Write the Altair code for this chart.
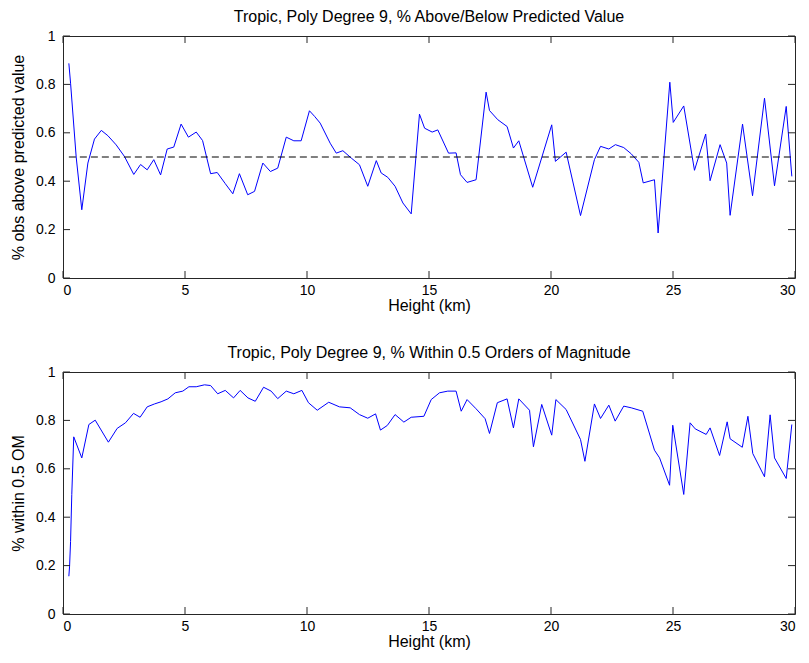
import altair as alt
import pandas as pd

# ---------------- data ----------------
heights_top = [0.24, 0.31, 0.54, 0.77, 1.02, 1.29, 1.57, 1.84, 2.18, 2.52, 2.90, 3.18, 3.45, 3.72,
               4.00, 4.27, 4.54, 4.84, 5.14, 5.46, 5.72, 6.05, 6.32, 6.65, 6.96, 7.23, 7.57, 7.85,
               8.19, 8.50, 8.80, 9.15, 9.46, 9.76, 10.10, 10.31, 10.54, 10.95, 11.20, 11.47, 11.81,
               12.15, 12.49, 12.84, 13.04, 13.31, 13.61, 13.93, 14.27, 14.61, 14.82, 15.13, 15.36,
               15.80, 16.11, 16.29, 16.56, 16.93, 17.34, 17.48, 17.82, 18.20, 18.46, 18.68, 19.25,
               20.03, 20.18, 20.62, 21.21, 21.78, 22.03, 22.37, 22.64, 22.98, 23.29, 23.60, 23.78,
               24.24, 24.39, 24.87, 25.01, 25.44, 25.88, 26.34, 26.52, 26.93, 27.20, 27.34, 27.85,
               28.26, 28.75, 29.16, 29.64, 29.87]
pct_above = [0.887, 0.805, 0.50, 0.282, 0.475, 0.574, 0.610, 0.588, 0.550, 0.502, 0.428, 0.469,
             0.447, 0.489, 0.426, 0.533, 0.541, 0.636, 0.582, 0.603, 0.568, 0.431, 0.436, 0.390,
             0.348, 0.431, 0.344, 0.358, 0.475, 0.440, 0.454, 0.582, 0.567, 0.567, 0.691, 0.668,
             0.640, 0.557, 0.516, 0.526, 0.496, 0.468, 0.379, 0.485, 0.434, 0.416, 0.379, 0.310,
             0.265, 0.677, 0.619, 0.603, 0.612, 0.516, 0.517, 0.427, 0.395, 0.406, 0.768, 0.692,
             0.654, 0.626, 0.537, 0.567, 0.375, 0.633, 0.482, 0.520, 0.258, 0.489, 0.544, 0.533,
             0.551, 0.539, 0.513, 0.478, 0.393, 0.406, 0.186, 0.809, 0.643, 0.711, 0.445, 0.595,
             0.402, 0.551, 0.475, 0.259, 0.636, 0.340, 0.743, 0.381, 0.709, 0.420]

heights_bot = [0.24, 0.27, 0.31, 0.36, 0.44, 0.77, 1.06, 1.32, 1.86, 2.22, 2.56, 2.89, 3.16, 3.45,
               3.75, 4.02, 4.30, 4.60, 4.91, 5.16, 5.46, 5.80, 6.05, 6.34, 6.65, 6.99, 7.26, 7.58,
               7.88, 8.22, 8.53, 8.80, 9.15, 9.46, 9.79, 10.06, 10.42, 10.89, 11.33, 11.77, 12.15,
               12.49, 12.81, 13.01, 13.29, 13.61, 13.97, 14.27, 14.79, 15.09, 15.43, 15.77, 16.11,
               16.32, 16.56, 16.93, 17.30, 17.48, 17.80, 18.20, 18.46, 18.68, 19.12, 19.28, 19.62,
               20.03, 20.20, 20.62, 21.21, 21.39, 21.78, 22.03, 22.37, 22.63, 22.98, 23.29, 23.76,
               24.24, 24.45, 24.86, 24.99, 25.44, 25.70, 25.91, 26.36, 26.52, 26.91, 27.22, 27.34,
               27.84, 28.07, 28.27, 28.75, 28.98, 29.16, 29.64, 29.87]
pct_within = [0.156, 0.198, 0.300, 0.494, 0.732, 0.645, 0.783, 0.801, 0.710, 0.767, 0.790, 0.829,
              0.813, 0.856, 0.868, 0.877, 0.889, 0.914, 0.921, 0.939, 0.939, 0.947, 0.944, 0.910,
              0.924, 0.893, 0.924, 0.893, 0.879, 0.937, 0.921, 0.890, 0.921, 0.910, 0.924, 0.873,
              0.842, 0.875, 0.856, 0.852, 0.824, 0.809, 0.827, 0.760, 0.779, 0.824, 0.793, 0.813,
              0.817, 0.886, 0.914, 0.921, 0.921, 0.838, 0.886, 0.848, 0.807, 0.746, 0.873, 0.889,
              0.769, 0.889, 0.842, 0.691, 0.866, 0.739, 0.886, 0.845, 0.721, 0.631, 0.868, 0.808,
              0.863, 0.797, 0.859, 0.852, 0.838, 0.677, 0.645, 0.532, 0.780, 0.494, 0.790, 0.765,
              0.742, 0.769, 0.655, 0.794, 0.724, 0.689, 0.817, 0.663, 0.567, 0.823, 0.645, 0.560,
              0.783]

x_ticks = [0, 5, 10, 15, 20, 25, 30]
y_ticks = [0, 0.2, 0.4, 0.6, 0.8, 1]
ref_level = 0.5

W, H = 732, 242
TICK = 7
FONT = "Liberation Sans"
FS_LABEL = 14
FS_TITLE = 16
FRAME = "#262626"


def panel(xs, ys, title, ytitle, ref=None):
    df = pd.DataFrame({"h": xs, "v": ys})
    xsc = alt.Scale(domain=[0, 30], nice=False, zero=False)
    ysc = alt.Scale(domain=[0, 1], nice=False, zero=False)
    xax = alt.Axis(values=x_ticks, format="~g", title="Height (km)", ticks=False,
                   domain=False, grid=False, labelPadding=5, titlePadding=0)
    yax = alt.Axis(values=y_ticks, format="~g", title=ytitle, ticks=False,
                   domain=False, grid=False, labelPadding=8, titlePadding=9)
    line = alt.Chart(df).mark_line(color="#0000ff", strokeWidth=1, clip=True).encode(
        x=alt.X("h:Q", scale=xsc, axis=xax),
        y=alt.Y("v:Q", scale=ysc, axis=yax),
    )
    layers = [line]
    if ref is not None:
        rdf = pd.DataFrame({"a": [xs[0]], "b": [xs[-1]], "r": [ref]})
        layers.append(alt.Chart(rdf).mark_rule(color="#000000", strokeWidth=1, strokeDash=[7, 4]).encode(
            x=alt.X("a:Q", scale=xsc, axis=xax), x2="b:Q", y=alt.Y("r:Q", scale=ysc, axis=yax)))
    tx = pd.DataFrame({"t": x_ticks})
    ty = pd.DataFrame({"t": y_ticks})
    layers.append(alt.Chart(tx).mark_rule(color=FRAME, strokeWidth=1).encode(
        x=alt.X("t:Q", scale=xsc, axis=xax), y=alt.value(H), y2=alt.value(H - TICK)))
    layers.append(alt.Chart(tx).mark_rule(color=FRAME, strokeWidth=1).encode(
        x=alt.X("t:Q", scale=xsc, axis=xax), y=alt.value(0), y2=alt.value(TICK)))
    layers.append(alt.Chart(ty).mark_rule(color=FRAME, strokeWidth=1).encode(
        y=alt.Y("t:Q", scale=ysc, axis=yax), x=alt.value(0), x2=alt.value(TICK)))
    layers.append(alt.Chart(ty).mark_rule(color=FRAME, strokeWidth=1).encode(
        y=alt.Y("t:Q", scale=ysc, axis=yax), x=alt.value(W), x2=alt.value(W - TICK)))
    return alt.layer(*layers).properties(
        width=W, height=H,
        title=alt.TitleParams(title, fontSize=FS_TITLE, font=FONT, fontWeight="normal",
                              anchor="middle", offset=4, color="#000000"))


top = panel(heights_top, pct_above, "Tropic, Poly Degree 9, % Above/Below Predicted Value",
            "% obs above predicted value", ref=ref_level)
bottom = panel(heights_bot, pct_within, "Tropic, Poly Degree 9, % Within 0.5 Orders of Magnitude",
               "% within 0.5 OM")

chart = alt.vconcat(top, bottom, spacing=30).properties(
    padding={"left": 10, "top": 8, "right": 10, "bottom": 5},
    background="white",
).configure_view(stroke=FRAME, strokeWidth=1).configure_axis(
    labelFont=FONT, titleFont=FONT, labelFontSize=FS_LABEL, titleFontSize=FS_TITLE,
    labelColor="#000000", titleColor="#000000", titleFontWeight="normal",
)

chart.save("out.html", embed_options={"renderer": "svg", "actions": False})
